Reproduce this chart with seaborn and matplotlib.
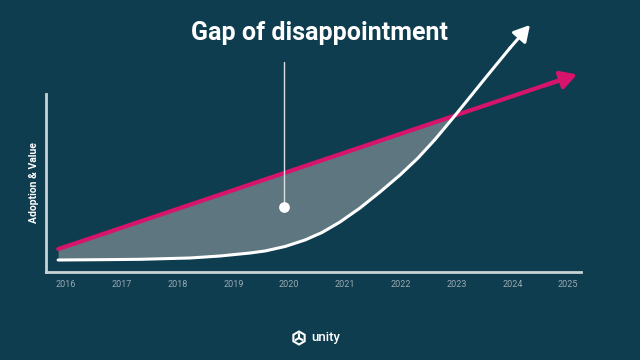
import numpy as np
import pandas as pd
import matplotlib
matplotlib.use("Agg")
import matplotlib.pyplot as plt
import seaborn as sns
from matplotlib.patches import Polygon

# ---- data ----
years = [2016, 2017, 2018, 2019, 2020, 2021, 2022, 2023, 2024, 2025]
tick_labels = [str(y) for y in years]

# expectation / value line (magenta): start and arrow tip
value_x = [2015.86, 2025.16]
value_y = [12.9, 111.0]

# adoption curve (white); last point is the arrow tip
adopt_x = [2015.857, 2016.609, 2017.326, 2018.222, 2018.760, 2019.297,
           2019.566, 2019.925, 2020.283, 2020.588, 2020.910, 2021.269,
           2021.627, 2021.986, 2022.308, 2022.613, 2022.935, 2023.545,
           2023.957, 2024.315]
adopt_y = [6.74, 6.91, 7.13, 7.87, 8.99, 10.67,
           11.80, 14.33, 17.98, 22.19, 28.09, 35.96,
           44.94, 54.49, 64.04, 74.44, 86.52, 110.11,
           125.84, 138.76]

annot_x = 2019.9
annot_dot_y = 36.5
annot_top_y = 118.0
title = "Gap of disappointment"
ylabel = "Adoption & Value"

BG = "#0e3d4f"
MAGENTA = "#d6146c"
FILL = "#5e7680"
WHITE = "#ffffff"
AXIS = "#c9d3d7"
TICK = "#9aaab2"

sns.set_theme(style="white")
plt.rcParams["font.family"] = ["Roboto", "DejaVu Sans"]

fig = plt.figure(figsize=(6.4, 3.6), dpi=100, facecolor=BG)
ax = fig.add_axes([46/640, 1-272/360, (581-46)/640, (272-94)/360])
ax.set_facecolor(BG)
ax.set_xlim(2015.64, 2025.23)
ax.set_ylim(0, 100)

# fill between curves where value > adoption
fx = np.linspace(adopt_x[0], adopt_x[-1], 800)
fa = np.interp(fx, adopt_x, adopt_y)
fv = np.interp(fx, value_x, value_y)
ax.fill_between(fx, fa, fv, where=fv >= fa, interpolate=True,
                color=FILL, lw=0, zorder=1, clip_on=False)

# magenta line + arrow
vx_end = value_x[0] + (value_x[1]-value_x[0]) * 0.97
vy_end = value_y[0] + (value_y[1]-value_y[0]) * 0.97
sns.lineplot(x=[value_x[0], vx_end], y=[value_y[0], vy_end], ax=ax,
             color=MAGENTA, lw=3.0, zorder=3, clip_on=False)
ax.annotate("", xy=(value_x[1], value_y[1]), xytext=(vx_end - 0.3, vy_end - 3.2),
            arrowprops=dict(arrowstyle="-|>,head_length=0.8,head_width=0.45",
                            color=MAGENTA, lw=3.0, shrinkA=0, shrinkB=0),
            annotation_clip=False, zorder=3)

# white adoption curve + arrow
da = pd.DataFrame({"x": adopt_x[:-1], "y": adopt_y[:-1]})
sns.lineplot(data=da, x="x", y="y", ax=ax, color=WHITE, lw=2.2,
             zorder=4, clip_on=False, sort=True)
ax.lines[-1].set_solid_joinstyle("round")
ax.annotate("", xy=(adopt_x[-1], adopt_y[-1]), xytext=(adopt_x[-2], adopt_y[-2]),
            arrowprops=dict(arrowstyle="-|>,head_length=0.8,head_width=0.45",
                            color=WHITE, lw=2.2, shrinkA=0, shrinkB=0),
            annotation_clip=False, zorder=4)

# annotation pin
ax.plot([annot_x, annot_x], [annot_dot_y, annot_top_y], color="#d8e0e3",
        lw=1.0, zorder=5, clip_on=False)
ax.scatter([annot_x], [annot_dot_y], s=60, color=WHITE, zorder=6, lw=0)

# axes styling
for s in ["top", "right"]:
    ax.spines[s].set_visible(False)
for s in ["left", "bottom"]:
    ax.spines[s].set_color(AXIS)
    ax.spines[s].set_linewidth(2.0)
ax.set_xticks(years)
ax.set_xticklabels(tick_labels, color=TICK, fontsize=6.5)
ax.set_yticks([])
ax.tick_params(axis="x", length=0, pad=6)
ax.set_xlabel("")
ax.set_ylabel(ylabel, color=WHITE, fontsize=7.5, fontweight="bold", labelpad=5)

fig.text(319.5/640, 1-33/360, title, color=WHITE, fontsize=18,
         fontweight="bold", ha="center", va="center")

# unity logo (decoration)
fig.text(311/640, 1-338/360, "unity", color=WHITE, fontsize=9.5,
         fontweight="medium", ha="left", va="center")
cx, cy, r = 299/640, 1-338/360, 6.5
hx = [cx + r*np.cos(np.deg2rad(a))/640 for a in (90, 30, -30, -90, -150, 150)]
hy = [cy + r*np.sin(np.deg2rad(a))/360 for a in (90, 30, -30, -90, -150, 150)]
fig.add_artist(Polygon(list(zip(hx, hy)), closed=True, fill=False,
                       ec=WHITE, lw=1.5, transform=fig.transFigure))
for a in (90, -30, -150):
    fig.add_artist(plt.Line2D([cx, cx + r*0.6*np.cos(np.deg2rad(a))/640],
                              [cy, cy + r*0.6*np.sin(np.deg2rad(a))/360],
                              color=WHITE, lw=1.5, transform=fig.transFigure))

fig.savefig("out.png", dpi=100, facecolor=BG)
